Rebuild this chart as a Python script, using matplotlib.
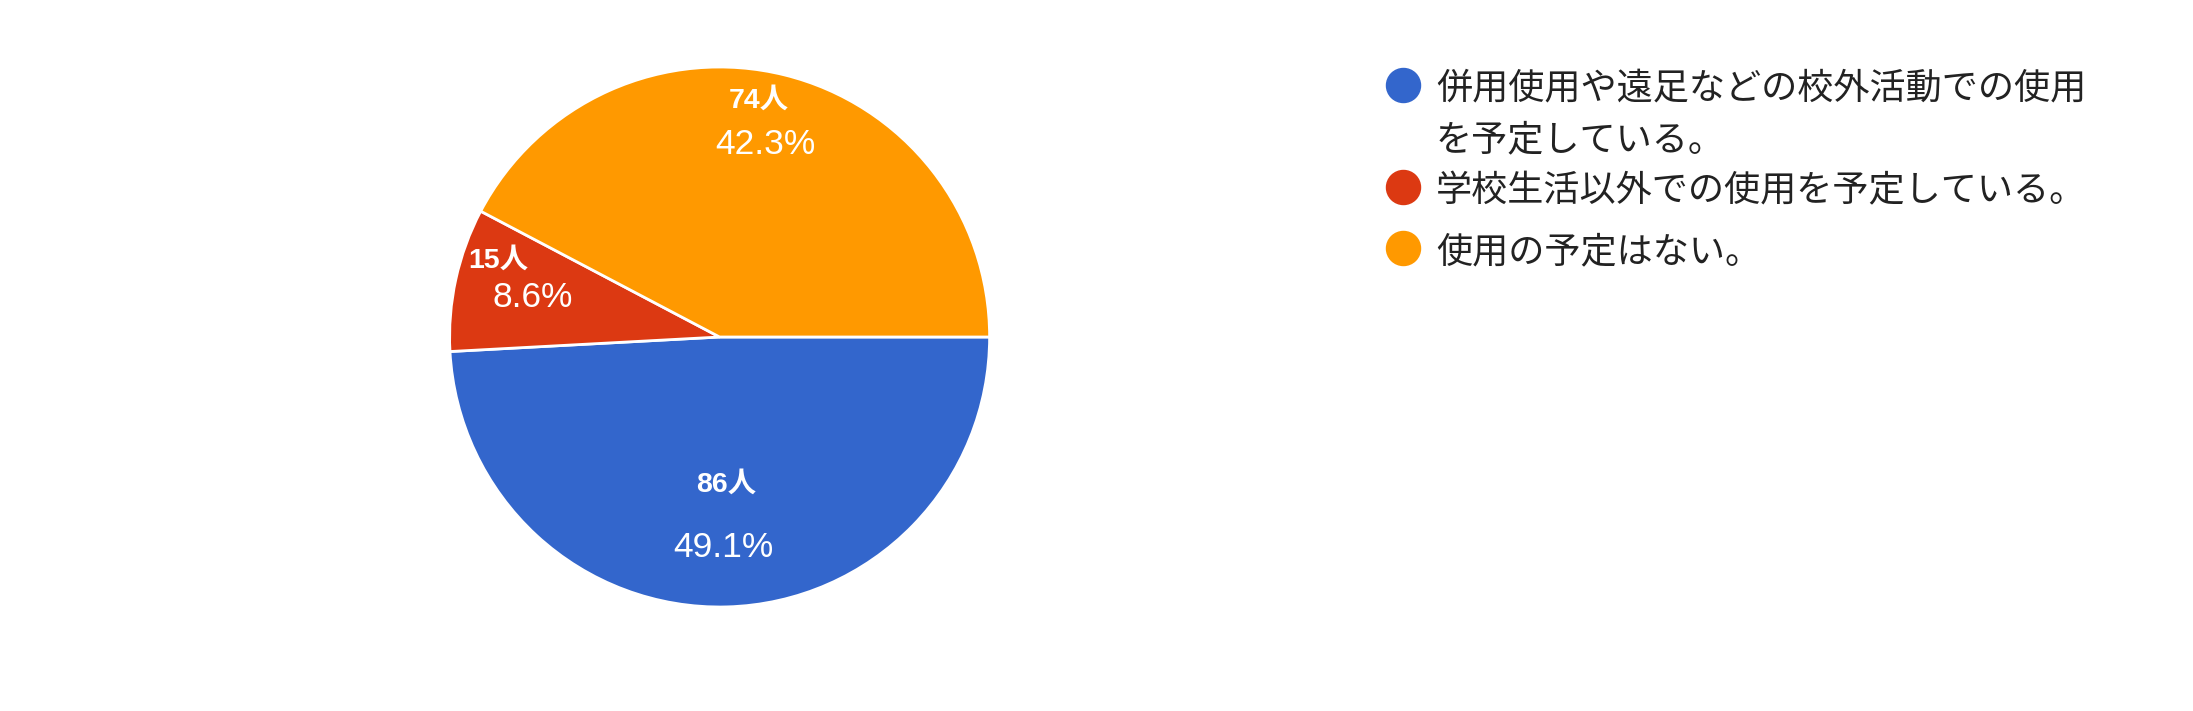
import numpy as np
import matplotlib
matplotlib.use("Agg")
import matplotlib.pyplot as plt
from matplotlib.lines import Line2D

# ---- data ----
categories = ["併用使用や遠足などの校外活動での使用を予定している。",
              "学校生活以外での使用を予定している。",
              "使用の予定はない。"]
counts = [86, 15, 74]
colors = ["#3366cc", "#dc3912", "#ff9900"]

W, H, DPI = 2193, 711, 100
fig = plt.figure(figsize=(W / DPI, H / DPI), dpi=DPI)
fig.patch.set_facecolor("white")

# pie axes (pixel geometry)
cx, cy, R = 719.6, 711 - 337, 270
ax = fig.add_axes([(cx - R) / W, (cy - R) / H, 2 * R / W, 2 * R / H])
wedges, _ = ax.pie(counts, colors=colors, startangle=0, counterclock=False,
                   radius=1.0, wedgeprops=dict(edgecolor="white", linewidth=2))
ax.set_xlim(-1, 1)
ax.set_ylim(-1, 1)
ax.set_aspect("equal")
ax.axis("off")

total = sum(counts)
# label placement styles: distance (fraction of R), count offset px, pct offset px
label_dist = [0.665, 0.785, 0.81]
count_off = [(1.5, 31.5), (-14.5, 30.8), (-13.5, 23.7)]
pct_off = [(-1.5, -31.5), (20.5, -6.2), (-6.5, -20.3)]

font_mix = ["Liberation Sans", "Noto Sans CJK JP"]
for i, w in enumerate(wedges):
    th = np.deg2rad((w.theta1 + w.theta2) / 2)
    d = label_dist[i]
    px = cx + d * R * np.cos(th)
    py = cy + d * R * np.sin(th)
    fig.text((px + count_off[i][0]) / W, (py + count_off[i][1]) / H,
             f"{counts[i]}人", color="white", fontsize=20.5, fontweight="bold",
             family=font_mix, ha="center", va="center")
    fig.text((px + pct_off[i][0]) / W, (py + pct_off[i][1]) / H,
             f"{counts[i] / total * 100:.1f}%", color="white", fontsize=25.5,
             family=font_mix, ha="center", va="center")

# legend (manual)
leg_x_marker = 1403
leg_x_text = 1436
leg_y = [85, 187, 248]
text_dy = -4
line_step = 51
wrap = 18
for i, lab in enumerate(categories):
    lines = [lab[k:k + wrap] for k in range(0, len(lab), wrap)]
    y = H - leg_y[i]
    fig.add_artist(Line2D([leg_x_marker / W], [y / H], marker="o", ms=24.5,
                          color=colors[i], transform=fig.transFigure,
                          linestyle="none"))
    for j, ln in enumerate(lines):
        fig.text(leg_x_text / W, (y + text_dy - j * line_step) / H, ln,
                 fontsize=26, color="#222222",
                 family=["Noto Sans CJK JP", "DejaVu Sans"],
                 ha="left", va="center")

fig.savefig("out.png", dpi=DPI, facecolor="white")
